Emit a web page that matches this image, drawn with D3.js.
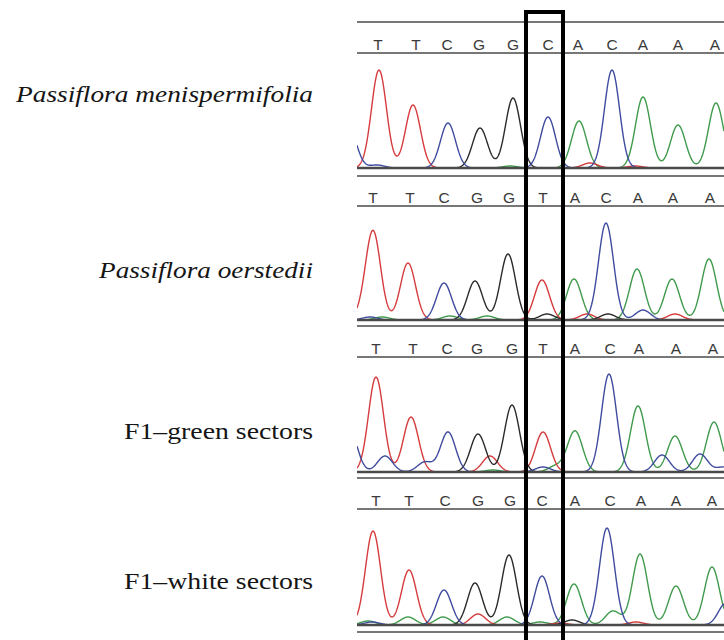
<!DOCTYPE html>
<html>
<head>
<meta charset="utf-8">
<script src="https://cdn.jsdelivr.net/npm/d3@7/dist/d3.min.js"></script>
<style>
  html, body { margin: 0; padding: 0; background: #fff; }
  #chart { width: 724px; height: 640px; }
</style>
</head>
<body>
<div id="chart"></div>
<script>
'use strict';

// sample names (left column)
const sampleNames = [
  'Passiflora menispermifolia',
  'Passiflora oerstedii',
  'F1\u2013green sectors',
  'F1\u2013white sectors',
];
const sampleItalic = [true, true, false, false];

// base calls for each trace
const baseCalls = [
  ['T', 'T', 'C', 'G', 'G', 'C', 'A', 'C', 'A', 'A', 'A'],
  ['T', 'T', 'C', 'G', 'G', 'T', 'A', 'C', 'A', 'A', 'A'],
  ['T', 'T', 'C', 'G', 'G', 'T', 'A', 'C', 'A', 'A', 'A'],
  ['T', 'T', 'C', 'G', 'G', 'C', 'A', 'C', 'A', 'A', 'A'],
];

// scan position of each base call
const baseScans = [
  [28, 66, 97, 129, 163, 198, 228, 262, 293, 328, 365],
  [23, 60, 94, 127, 159, 193, 225, 256, 288, 323, 360],
  [26, 63, 97, 127, 162, 193, 225, 260, 289, 326, 363],
  [26, 59, 95, 128, 160, 192, 225, 260, 291, 326, 362],
];

// peaks per dye channel: [scan, signal]
const peaksT = [
  [[29, 98], [63, 63], [240, 5], [285, 2]],
  [[23, 89], [58, 57], [192, 40], [10, 3], [237, 6], [325, 6]],
  [[26, 95], [61, 55], [193, 40], [140, 16]],
  [[23, 94], [59, 55], [128, 11], [286, 3], [210, 2]],
];
const peaksC = [
  [[-1, 40], [27, 3], [98, 45], [198, 51], [262, 98]],
  [[94, 37], [256, 97], [20, 3], [293, 10]],
  [[0, 40], [35, 16], [75, 10], [98, 40], [193, 5], [259, 98], [312, 17], [350, 18], [374, 5]],
  [[94, 35], [192, 49], [257, 97], [376, 22], [22, 3]],
];
const peaksG = [
  [[130, 40], [163, 70]],
  [[125, 39], [158, 66], [197, 6], [258, 6]],
  [[128, 38], [162, 67]],
  [[125, 42], [159, 70], [222, 5]],
];
const peaksA = [
  [[229, 47], [293, 71], [328, 43], [366, 65], [160, 2]],
  [[224, 41], [287, 51], [322, 41], [359, 61], [32, 3], [100, 4], [137, 4]],
  [[225, 41], [288, 66], [325, 36], [364, 50], [206, 6], [143, 2]],
  [[224, 41], [290, 71], [326, 39], [362, 58], [18, 4], [58, 8], [93, 8], [157, 8], [190, 3], [263, 14]],
];

// highlighted position (scan range)
const highlightScans = [176, 213];

const W = 724, H = 640;
const PANEL = [
  { top: 22, under: 53, base: 168 },
  { top: 176, under: 206, base: 320 },
  { top: 326, under: 357, base: 472 },
  { top: 478, under: 509, base: 625 },
];
const BOTTOM_LINE = 632;
const TRACE_LEFT = 357;
const PEAK_SIGMA = 7.5;
const LABEL_RIGHT = 313;
const LABEL_WIDTH = [297, 214, 189, 189];
const LABEL_BASELINE = [102, 278, 439, 589];

const channels = [
  { name: 'A', peaks: peaksA, color: '#3f9a4c' },
  { name: 'T', peaks: peaksT, color: '#d63b3d' },
  { name: 'G', peaks: peaksG, color: '#2b2b2b' },
  { name: 'C', peaks: peaksC, color: '#3f4c9e' },
];

const x = d3.scaleLinear().domain([0, 374]).range([350, 724]);

const svg = d3.select('#chart')
  .append('svg')
  .attr('width', W)
  .attr('height', H)
  .style('background', '#fff');

const grid = d3.range(7, 374.5, 0.5);

function trace(peaks) {
  return grid.map(s => [s, d3.sum(peaks, p => p[1] * Math.exp(-((s - p[0]) ** 2) / (2 * PEAK_SIGMA ** 2)))]);
}

PANEL.forEach((P, i) => {
  const y = d3.scaleLinear().domain([0, 100]).range([P.base, P.base - 100]);

  svg.append('clipPath')
    .attr('id', `clip${i}`)
    .append('rect')
    .attr('x', TRACE_LEFT).attr('y', P.under)
    .attr('width', W - TRACE_LEFT).attr('height', P.base - P.under);

  const g = svg.append('g').attr('clip-path', `url(#clip${i})`);
  const line = d3.line().x(d => x(d[0])).y(d => y(d[1]));

  channels.forEach(ch => {
    g.append('path')
      .datum(trace(ch.peaks[i]))
      .attr('d', line)
      .attr('fill', 'none')
      .attr('stroke', ch.color)
      .attr('stroke-width', 1.4);
  });

  // frame lines
  [[P.top, 1.5], [P.under, 1.5], [P.base, 2.4]].forEach(([yy, sw]) => {
    svg.append('line')
      .attr('x1', TRACE_LEFT).attr('x2', W)
      .attr('y1', yy).attr('y2', yy)
      .attr('stroke', '#4a4a4a')
      .attr('stroke-width', sw);
  });

  svg.append('g')
    .selectAll('text')
    .data(baseCalls[i])
    .join('text')
    .attr('x', (d, j) => x(baseScans[i][j]))
    .attr('y', P.under - 3)
    .attr('text-anchor', 'middle')
    .attr('font-family', 'Liberation Sans')
    .attr('font-size', 15.5)
    .attr('fill', '#3a3a3a')
    .text(d => d);

  svg.append('text')
    .attr('x', LABEL_RIGHT)
    .attr('y', LABEL_BASELINE[i])
    .attr('text-anchor', 'end')
    .attr('font-family', 'Liberation Serif')
    .attr('font-size', 24)
    .attr('font-style', sampleItalic[i] ? 'italic' : 'normal')
    .attr('fill', '#151515')
    .attr('textLength', LABEL_WIDTH[i])
    .attr('lengthAdjust', 'spacingAndGlyphs')
    .text(sampleNames[i]);
});

svg.append('line')
  .attr('x1', TRACE_LEFT).attr('x2', W)
  .attr('y1', BOTTOM_LINE).attr('y2', BOTTOM_LINE)
  .attr('stroke', '#4a4a4a')
  .attr('stroke-width', 1.5);

// highlight box around the variable site
svg.append('rect')
  .attr('x', x(highlightScans[0]))
  .attr('y', 12)
  .attr('width', x(highlightScans[1]) - x(highlightScans[0]))
  .attr('height', H)
  .attr('fill', 'none')
  .attr('stroke', '#000')
  .attr('stroke-width', 4);
</script>
</body>
</html>
